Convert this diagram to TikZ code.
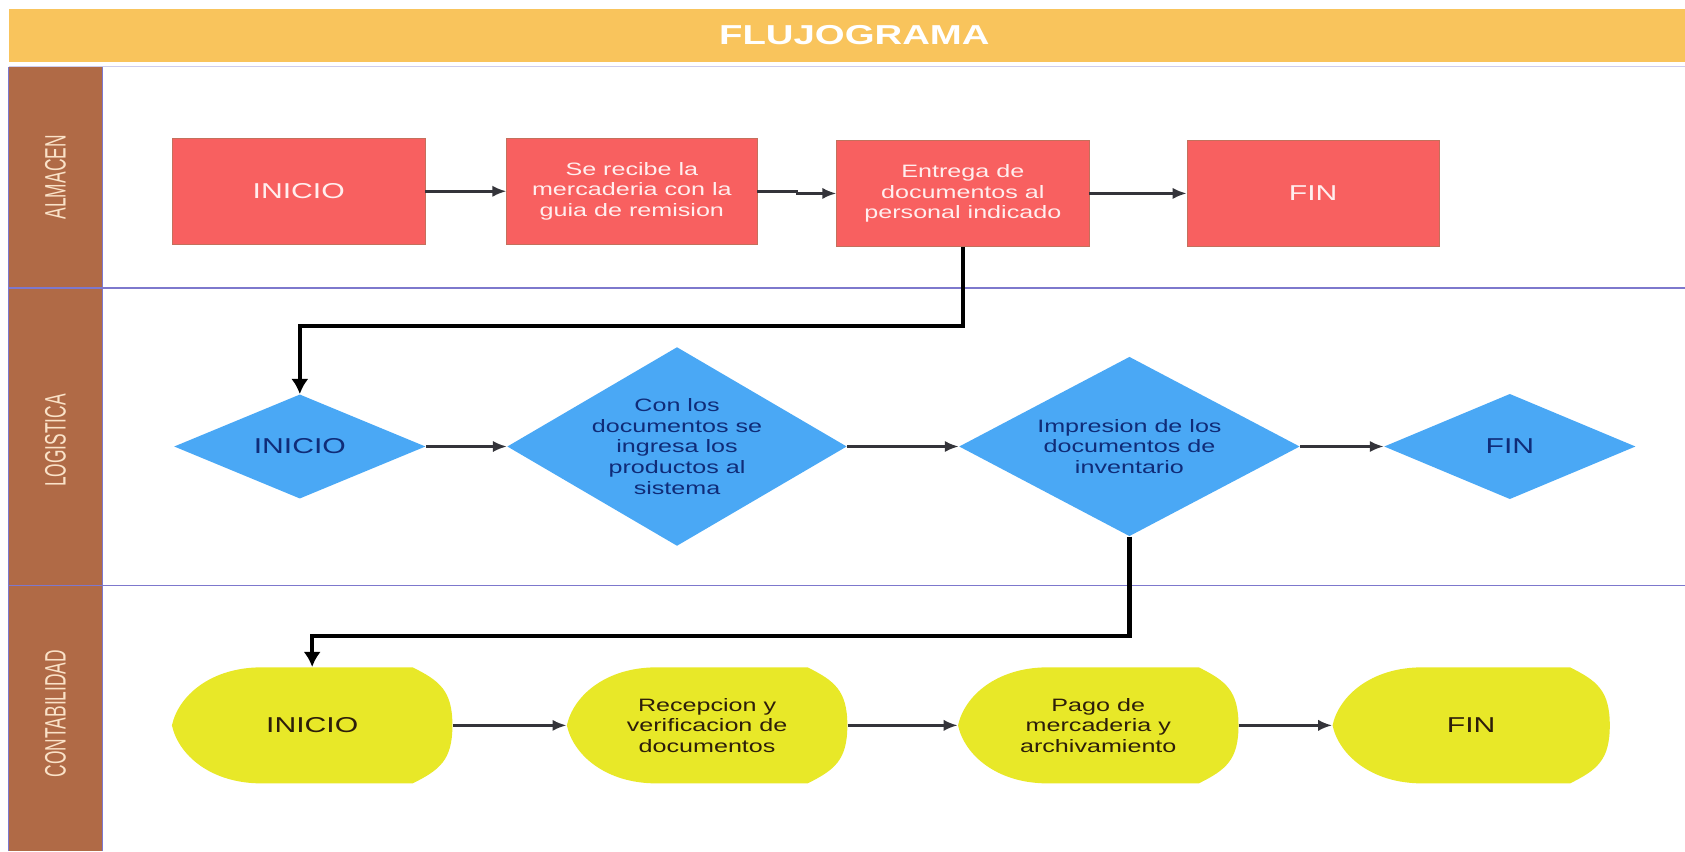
\documentclass[tikz,border=0pt]{standalone}
\usepackage{fontspec}
\usepackage{graphicx}
\usetikzlibrary{arrows.meta,shapes.geometric,calc}
\newfontfamily\flowfont{Liberation Sans}[FakeStretch=1.4]
\newfontfamily\lanefont{Liberation Sans}
\definecolor{titlebar}{RGB}{249,196,92}
\definecolor{lanebrown}{RGB}{176,106,70}
\definecolor{lanetxt}{RGB}{250,226,200}
\definecolor{laneline}{RGB}{125,120,205}
\definecolor{lanetop}{RGB}{205,205,238}
\definecolor{boxred}{RGB}{248,96,96}
\definecolor{boxedge}{RGB}{196,112,92}
\definecolor{redtxt}{RGB}{255,238,238}
\definecolor{boxblue}{RGB}{74,168,245}
\definecolor{bluetxt}{RGB}{16,44,120}
\definecolor{boxyellow}{RGB}{232,232,40}
\definecolor{yellowtxt}{RGB}{45,30,10}
\definecolor{flowgray}{RGB}{52,52,58}

\begin{document}
\begin{tikzpicture}[>={Latex[length=2.6mm,width=2.1mm]}]

        \useasboundingbox (0,0) rectangle (31.36,15.84);

        \def\dispshape{\fill[boxyellow] ($(path picture bounding box.north west)+(1.67,0)$)
            -- ($(path picture bounding box.north east)+(-0.74,0)$)
            .. controls +(0.5,-0.25) and +(0,0.65) .. (path picture bounding box.east)
            .. controls +(0,-0.65) and +(0.5,0.25) .. ($(path picture bounding box.south east)+(-0.74,0)$)
            -- ($(path picture bounding box.south west)+(1.67,0)$)
            .. controls +(-0.95,0) and +(0.12,-0.55) .. (path picture bounding box.west)
            .. controls +(0.12,0.55) and +(-0.95,0) .. ($(path picture bounding box.north west)+(1.67,0)$)
            -- cycle;}
        \tikzstyle{redbox}=[rectangle, fill=boxred, draw=boxedge, line width=0.3pt, minimum width=4.7cm, minimum height=1.98cm, inner sep=0pt, text=redtxt, align=center, font=\flowfont\fontsize{9.5}{11}\selectfont]
        \tikzstyle{bluedia}=[diamond, fill=boxblue, inner sep=0pt, text=bluetxt, align=center, font=\flowfont\fontsize{9.5}{11}\selectfont]
        \tikzstyle{yelldisp}=[rectangle, fill=white, minimum width=5.22cm, minimum height=2.16cm, inner sep=0pt, text=yellowtxt, align=center, font=\flowfont\fontsize{9.5}{11}\selectfont, path picture={\dispshape}]
        \tikzstyle{big}=[font=\flowfont\fontsize{11.4}{13}\selectfont]
        \tikzstyle{lanetext}=[rotate=90, text=lanetxt, font=\lanefont\fontsize{9.2}{11}\selectfont]

        % title and lanes
        \fill[titlebar] (0.16,14.68) rectangle (31.36,15.68);
        \node (title) at (15.9,15.18) {\flowfont\fontsize{14.5}{16}\selectfont\bfseries\color{white}FLUJOGRAMA};
        \fill[lanebrown] (0.16,0) rectangle (1.9,14.6);
        \begin{scope}[line width=0.6pt]
        \draw[lanetop]  (0.16,14.6) -- (31.36,14.6);
        \draw[laneline] (0.16,10.48) -- (31.36,10.48);
        \draw[laneline] (0.16,4.94) -- (31.36,4.94);
        \draw[laneline] (0.16,0) -- (0.16,14.6);
        \draw[laneline] (1.9,0) -- (1.9,14.6);
        \end{scope}

        \foreach \y/\t/\n in {12.54/ALMACEN/almacen, 7.64/LOGISTICA/logistica, 2.56/CONTABILIDAD/contabilidad}
            \node (\n) [lanetext] at (1.03,\y) {\scalebox{1}[1.7]{\t}};

        % almacen
        \node (a1) [redbox,big] at (5.56,12.28) {INICIO};
        \node (a2) [redbox, minimum width=4.66cm] at (11.76,12.28) {Se recibe la\\mercaderia con la\\guia de remision};
        \node (a3) [redbox] at (17.92,12.24) {Entrega de\\documentos al\\personal indicado};
        \node (a4) [redbox,big] at (24.44,12.24) {FIN};

        % logistica
        \node (b1) [bluedia,big,aspect=2.4,minimum width=4.68cm,minimum height=1.94cm] at (5.58,7.53) {INICIO};
        \node (b2) [bluedia,aspect=1.7,minimum width=6.32cm,minimum height=3.7cm] at (12.6,7.53) {Con los\\documentos se\\ingresa los\\productos al\\sistema};
        \node (b3) [bluedia,aspect=1.9,minimum width=6.34cm,minimum height=3.34cm] at (21.02,7.53) {Impresion de los\\documentos de\\inventario};
        \node (b4) [bluedia,big,aspect=2.4,minimum width=4.68cm,minimum height=1.96cm] at (28.1,7.53) {FIN};

        % contabilidad
        \node (c1) [yelldisp,big] at (5.81,2.34) {INICIO};
        \node (c2) [yelldisp] at (13.16,2.34) {Recepcion y\\verificacion de\\documentos};
        \node (c3) [yelldisp] at (20.44,2.34) {Pago de\\mercaderia y\\archivamiento};
        \node (c4) [yelldisp,big,minimum width=5.16cm] at (27.38,2.34) {FIN};

        \begin{scope}[line width=1.3pt, flowgray]
        \draw[->] (a1.east) -- (a2.west);
        \draw[->] (a2.east) -- ++(0.74,0) |- (a3.west);
        \draw[->] (a3.east) -- (a4.west);
        \draw[->] (b1.east) -- (b2.west);
        \draw[->] (b2.east) -- (b3.west);
        \draw[->] (b3.east) -- (b4.west);
        \draw[->] (c1.east) -- (c2.west);
        \draw[->] (c2.east) -- (c3.west);
        \draw[->] (c3.east) -- (c4.west);
        \end{scope}

        \begin{scope}[line width=2.2pt, >={Latex[length=2.8mm,width=3.2mm]}]
        \draw[->] (a3.south) -- ++(0,-1.47) -| (b1.north);
        \draw[->] (b3.south) -- ++(0,-1.85) -| (c1.north);
        \end{scope}

\end{tikzpicture}
\end{document}
